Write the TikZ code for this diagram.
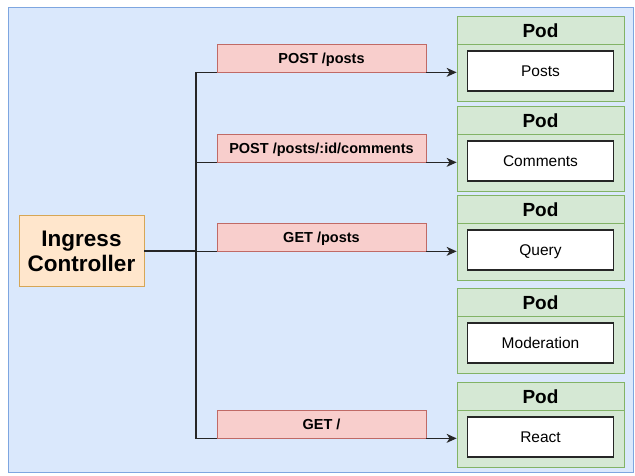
\documentclass[tikz,border=0pt]{standalone}
\usepackage{fontspec}
\setmainfont{Liberation Sans}
\usetikzlibrary{arrows.meta}
\definecolor{bgblue}{HTML}{DAE8FC}
\definecolor{bgline}{HTML}{7EA6E0}
\definecolor{podfill}{HTML}{D5E8D4}
\definecolor{podline}{HTML}{82B366}
\definecolor{routefill}{HTML}{F8CECC}
\definecolor{routeline}{HTML}{C06A66}
\definecolor{ingfill}{HTML}{FFE6CC}
\definecolor{ingline}{HTML}{D6A656}
\tikzset{
  route/.style={draw=routeline, fill=routefill, line width=0.7pt, minimum width=209pt, minimum height=28pt, inner sep=0pt, text height=10.5pt, text depth=-2.5pt, font=\fontsize{14.5}{17}\selectfont\bfseries},
  pod/.style={draw=podline, fill=podfill, line width=0.8pt, minimum width=167pt, minimum height=85pt, inner sep=0pt},
  podname/.style={font=\fontsize{19}{22}\selectfont\bfseries, inner sep=0pt},
  service/.style={draw=black!85, fill=white, line width=1.1pt, minimum width=146pt, minimum height=40pt, inner sep=0pt, text height=11pt, text depth=0pt, font=\fontsize{15.5}{18}\selectfont},
  link/.style={line width=1.2pt, black!85},
  arrow/.style={link, -{Stealth[length=10pt 0, width=9pt 0, inset=3pt]}}
}
\begin{document}
\begin{tikzpicture}[x=1pt,y=-1pt]
        \useasboundingbox (0,0) rectangle (635,475);
        \fill[white] (0,0) rectangle (635,475);
        \draw[bgline, fill=bgblue, line width=0.6pt] (8,7) rectangle (633,472);

        % ingress controller
        \node[draw=ingline, fill=ingfill, line width=0.8pt, minimum width=125pt, minimum height=71pt, align=center, inner sep=0pt, font=\fontsize{22.5}{25}\selectfont\bfseries] (ing) at (81.5,251) {Ingress\\Controller};

        % routes
        \node[route] (r1) at (321.5,58) {POST /posts};
        \node[route] (r2) at (321.5,148) {POST /posts/:id/comments};
        \node[route] (r3) at (321.5,237) {GET /posts};
        \node[route] (r4) at (321.5,424) {GET /};

        % pods
        \foreach \name/\top/\svc in {p1/16/Posts, p2/106/Comments, p3/195/Query, p4/288/Moderation, p5/382/React} {
            \node[pod, anchor=north] (\name) at (540.5,\top) {};
            \draw[podline, line width=0.8pt] ([yshift=-28pt]\name.north west) -- ([yshift=-28pt]\name.north east);
            \node[podname] (\name-head) at ([yshift=-15pt]\name.north) {Pod};
            \node[service] (\name-svc) at ([yshift=-55pt]\name.north) {\svc};
        }

        % connectors
        \coordinate (bus) at (196,251);
        \draw[link, line width=1.6pt] (ing.east) -- (ing.east -| bus);
        \draw[link] (r1.south west) -- (r1.south west -| bus) -- (r4.south west -| bus) -- (r4.south west);
        \draw[link] (r2.south west) -- (r2.south west -| bus);
        \draw[link] (r3.south west) -- (r3.south west -| bus);

        \draw[arrow] (r1.south east) -- (r1.south east -| p1.west);
        \draw[arrow] (r2.south east) -- (r2.south east -| p2.west);
        \draw[arrow] (r3.south east) -- (r3.south east -| p3.west);
        \draw[arrow] (r4.south east) -- (r4.south east -| p5.west);

    \end{tikzpicture}
\end{document}
